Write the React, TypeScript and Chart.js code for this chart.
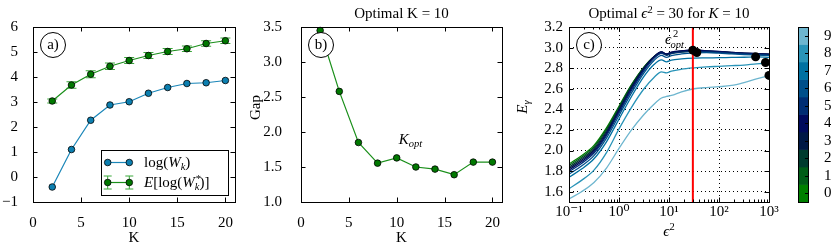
import React, { useEffect, useRef } from "react";
import { Chart, registerables } from "chart.js";

Chart.register(...registerables);

// ---------------- data ----------------
const K_VALUES = [2, 4, 6, 8, 10, 12, 14, 16, 18, 20];
const LOG_WK = [-0.4, 1.1, 2.27, 2.88, 3.01, 3.35, 3.58, 3.74, 3.77, 3.86];
const E_LOG_WK_STAR = [3.04, 3.68, 4.11, 4.43, 4.66, 4.86, 5.02, 5.13, 5.34, 5.45];
const E_LOG_WK_STAR_ERR = [0.08, 0.13, 0.14, 0.13, 0.12, 0.12, 0.12, 0.11, 0.11, 0.11];
const GAP = [3.45, 2.58, 1.85, 1.555, 1.63, 1.5, 1.47, 1.39, 1.57, 1.57];
const K_OPT = 10;

const K_TICKS = [0, 5, 10, 15, 20];
const A_Y_TICKS = [-1, 0, 1, 2, 3, 4, 5, 6];
const B_Y_TICKS = [1.0, 1.5, 2.0, 2.5, 3.0, 3.5];
const C_Y_TICKS = [1.6, 1.8, 2.0, 2.2, 2.4, 2.6, 2.8, 3.0, 3.2];
const C_X_TICKS = [0.1, 1, 10, 100, 1000];
const C_X_TICK_LABELS = ["10⁻¹", "10⁰", "10¹", "10²", "10³"];

const EPS2 = [0.1, 0.178, 0.316, 0.562, 1, 1.78, 3.16, 5.01, 7.08, 8.91, 11.2, 17.8, 31.6, 56.2, 100, 178, 316, 562, 1000];
const E_GAMMA_0 = [1.87, 1.95, 2.05, 2.22, 2.43, 2.64, 2.81, 2.91, 2.95, 2.93, 2.945, 2.958, 2.965, 2.96, 2.955, 2.947, 2.94, 2.935, 2.93];
const E_GAMMA_1 = [1.855, 1.935, 2.035, 2.205, 2.42, 2.635, 2.81, 2.912, 2.952, 2.932, 2.948, 2.961, 2.968, 2.962, 2.957, 2.949, 2.942, 2.937, 2.932];
const E_GAMMA_2 = [1.84, 1.92, 2.02, 2.19, 2.41, 2.625, 2.805, 2.912, 2.955, 2.935, 2.951, 2.964, 2.971, 2.965, 2.959, 2.951, 2.944, 2.939, 2.934];
const E_GAMMA_3 = [1.825, 1.905, 2.005, 2.175, 2.395, 2.615, 2.8, 2.912, 2.957, 2.937, 2.953, 2.967, 2.974, 2.967, 2.961, 2.953, 2.946, 2.941, 2.936];
const E_GAMMA_4 = [1.81, 1.89, 1.99, 2.16, 2.38, 2.6, 2.79, 2.908, 2.958, 2.938, 2.955, 2.969, 2.977, 2.969, 2.962, 2.954, 2.947, 2.942, 2.937];
const E_GAMMA_5 = [1.795, 1.875, 1.975, 2.145, 2.365, 2.585, 2.775, 2.895, 2.945, 2.925, 2.942, 2.956, 2.964, 2.96, 2.954, 2.946, 2.94, 2.935, 2.93];
const E_GAMMA_6 = [1.77, 1.85, 1.95, 2.12, 2.34, 2.56, 2.755, 2.875, 2.925, 2.905, 2.922, 2.938, 2.948, 2.951, 2.946, 2.938, 2.932, 2.927, 2.922];
const E_GAMMA_7 = [1.74, 1.82, 1.92, 2.085, 2.305, 2.525, 2.72, 2.835, 2.88, 2.862, 2.878, 2.89, 2.898, 2.9, 2.902, 2.904, 2.906, 2.91, 2.905];
const E_GAMMA_8 = [1.63, 1.71, 1.81, 1.98, 2.21, 2.42, 2.6, 2.71, 2.765, 2.755, 2.772, 2.79, 2.803, 2.812, 2.818, 2.824, 2.83, 2.842, 2.85];
const E_GAMMA_9 = [1.53, 1.6, 1.69, 1.83, 2.02, 2.2, 2.35, 2.45, 2.51, 2.525, 2.535, 2.57, 2.6, 2.612, 2.62, 2.632, 2.66, 2.695, 2.73];
const E_GAMMA_CURVES = [E_GAMMA_0, E_GAMMA_1, E_GAMMA_2, E_GAMMA_3, E_GAMMA_4, E_GAMMA_5, E_GAMMA_6, E_GAMMA_7, E_GAMMA_8, E_GAMMA_9];
const EPS2_OPT = 30;
const PEAK_EPS2 = [30, 36, 540, 850, 1000];
const PEAK_E_GAMMA = [2.975, 2.952, 2.91, 2.855, 2.73];

const CB_LEVELS = ["0", "1", "2", "3", "4", "5", "6", "7", "8", "9"];
const CB_COLORS = ["#008000", "#005d17", "#003b2e", "#001845", "#000a5c", "#002d73", "#004f8a", "#0071a1", "#2994b8", "#6eb6cf"];

// ---------------- style ----------------
const FF = "'Liberation Serif','DejaVu Serif',serif";
const FS = 15;
const FS_SMALL = 10.5;
const GREEN_LINE = "#1a8f1a";
const GREEN_FILL = "#007800";
const ERR_COLOR = "#3aa83a";
const BLUE_LINE = "#1a86b8";
const BLUE_FILL = "#0c7fb0";

Chart.defaults.font.family = FF;
Chart.defaults.font.size = FS;
Chart.defaults.color = "#000";

type Seg = { t: string; it?: boolean; sz?: number; dy?: number; dx?: number; noAdv?: boolean };

function fontOf(s: Seg) {
  return `${s.it ? "italic " : ""}${s.sz ?? FS}px ${FF}`;
}

function drawRich(ctx: CanvasRenderingContext2D, segs: Seg[], x: number, y: number, align: "left" | "center" | "right" = "left") {
  ctx.save();
  let w = 0;
  for (const s of segs) {
    ctx.font = fontOf(s);
    if (!s.noAdv) w += ctx.measureText(s.t).width + (s.dx || 0);
  }
  let cx = align === "center" ? x - w / 2 : align === "right" ? x - w : x;
  ctx.textAlign = "left";
  ctx.textBaseline = "alphabetic";
  ctx.fillStyle = "#000";
  for (const s of segs) {
    ctx.font = fontOf(s);
    ctx.fillText(s.t, cx + (s.dx || 0), y + (s.dy || 0));
    if (!s.noAdv) cx += ctx.measureText(s.t).width + (s.dx || 0);
  }
  ctx.restore();
}

function fixedTicks(values: number[]) {
  return (scale: any) => {
    scale.ticks = values.map((v) => ({ value: v }));
  };
}

const px = (v: number) => Math.round(v) + 0.5;

function drawFrame(chart: any, logMinorX = false) {
  const { ctx, chartArea: a } = chart;
  const xs = chart.scales.x;
  const ys = chart.scales.y;
  const L = 4.5;
  const Lm = 2.5;
  ctx.save();
  ctx.strokeStyle = "#000";
  ctx.lineWidth = 1;
  ctx.setLineDash([]);
  ctx.beginPath();
  for (const t of xs.ticks) {
    const p = px(xs.getPixelForValue(t.value));
    ctx.moveTo(p, a.bottom);
    ctx.lineTo(p, a.bottom - L);
    ctx.moveTo(p, a.top);
    ctx.lineTo(p, a.top + L);
  }
  if (logMinorX) {
    const e0 = Math.floor(Math.log10(xs.min));
    const e1 = Math.ceil(Math.log10(xs.max));
    for (let e = e0; e < e1; e++) {
      for (let m = 2; m < 10; m++) {
        const p = px(xs.getPixelForValue(m * Math.pow(10, e)));
        ctx.moveTo(p, a.bottom);
        ctx.lineTo(p, a.bottom - Lm);
        ctx.moveTo(p, a.top);
        ctx.lineTo(p, a.top + Lm);
      }
    }
  }
  for (const t of ys.ticks) {
    const p = px(ys.getPixelForValue(t.value));
    ctx.moveTo(a.left, p);
    ctx.lineTo(a.left + L, p);
    ctx.moveTo(a.right, p);
    ctx.lineTo(a.right - L, p);
  }
  ctx.stroke();
  ctx.strokeRect(px(a.left), px(a.top), Math.round(a.right) - Math.round(a.left), Math.round(a.bottom) - Math.round(a.top));
  ctx.restore();
}

function drawCircleLabel(ctx: CanvasRenderingContext2D, a: any, text: string) {
  const cx = a.left + 20;
  const cy = a.top + 18;
  ctx.save();
  ctx.beginPath();
  ctx.arc(cx, cy, 12.5, 0, Math.PI * 2);
  ctx.fillStyle = "#fff";
  ctx.fill();
  ctx.strokeStyle = "#000";
  ctx.lineWidth = 1;
  ctx.stroke();
  ctx.fillStyle = "#000";
  ctx.font = `${FS}px ${FF}`;
  ctx.textAlign = "center";
  ctx.textBaseline = "middle";
  ctx.fillText(text, cx, cy + 0.5);
  ctx.restore();
}

function drawMarker(ctx: CanvasRenderingContext2D, x: number, y: number, fill: string) {
  ctx.beginPath();
  ctx.arc(x, y, 3.3, 0, Math.PI * 2);
  ctx.fillStyle = fill;
  ctx.fill();
  ctx.lineWidth = 0.8;
  ctx.strokeStyle = "#000";
  ctx.stroke();
}

function baseOptions(padLeft: number, padRight: number) {
  return {
    responsive: false,
    animation: false as const,
    devicePixelRatio: 1,
    events: [] as any[],
    layout: { padding: { left: padLeft, right: padRight, top: 27, bottom: 0 } },
    plugins: { legend: { display: false }, tooltip: { enabled: false }, title: { display: false } },
  };
}

function linearX(ticks: number[]) {
  return {
    type: "linear" as const,
    min: 0,
    max: 21,
    afterBuildTicks: fixedTicks(ticks),
    afterFit: (s: any) => {
      s.height = 48;
    },
    grid: { display: false },
    border: { display: false },
    ticks: { padding: 4, autoSkip: false, maxRotation: 0 },
  };
}

// ---------------- panel a ----------------
function makeA(canvas: HTMLCanvasElement) {
  const errPlugin = {
    id: "errbars",
    beforeDatasetsDraw(chart: any) {
      const { ctx } = chart;
      const xs = chart.scales.x;
      const ys = chart.scales.y;
      ctx.save();
      ctx.strokeStyle = ERR_COLOR;
      ctx.lineWidth = 1;
      ctx.beginPath();
      K_VALUES.forEach((k, i) => {
        const x = xs.getPixelForValue(k);
        const y1 = ys.getPixelForValue(E_LOG_WK_STAR[i] - E_LOG_WK_STAR_ERR[i]);
        const y2 = ys.getPixelForValue(E_LOG_WK_STAR[i] + E_LOG_WK_STAR_ERR[i]);
        ctx.moveTo(x, y1);
        ctx.lineTo(x, y2);
        ctx.moveTo(x - 5, y1);
        ctx.lineTo(x + 5, y1);
        ctx.moveTo(x - 5, y2);
        ctx.lineTo(x + 5, y2);
      });
      ctx.stroke();
      ctx.restore();
    },
  };
  const deco = {
    id: "decoA",
    afterDraw(chart: any) {
      const { ctx, chartArea: a } = chart;
      drawFrame(chart);
      drawCircleLabel(ctx, a, "a)");
      drawRich(ctx, [{ t: "K" }], (a.left + a.right) / 2, 242, "center");
      // legend
      const bw = 127;
      const bh = 45;
      const bx = Math.round(a.right - 7.5 - bw);
      const by = Math.round(a.bottom - 7.5 - bh);
      ctx.save();
      ctx.fillStyle = "#fff";
      ctx.fillRect(bx, by, bw, bh);
      ctx.strokeStyle = "#000";
      ctx.lineWidth = 1;
      ctx.strokeRect(bx + 0.5, by + 0.5, bw, bh);
      const m1 = bx + 6.7;
      const m2 = bx + 28.3;
      const r1 = by + 12.5;
      const r2 = by + 32.5;
      ctx.strokeStyle = BLUE_LINE;
      ctx.lineWidth = 1.2;
      ctx.beginPath();
      ctx.moveTo(m1, r1);
      ctx.lineTo(m2, r1);
      ctx.stroke();
      drawMarker(ctx, m1, r1, BLUE_FILL);
      drawMarker(ctx, m2, r1, BLUE_FILL);
      ctx.strokeStyle = ERR_COLOR;
      ctx.lineWidth = 1;
      ctx.beginPath();
      for (const m of [m1, m2]) {
        ctx.moveTo(m, r2 - 6.5);
        ctx.lineTo(m, r2 + 6.5);
        ctx.moveTo(m - 4, r2 - 6.5);
        ctx.lineTo(m + 4, r2 - 6.5);
        ctx.moveTo(m - 4, r2 + 6.5);
        ctx.lineTo(m + 4, r2 + 6.5);
      }
      ctx.stroke();
      ctx.strokeStyle = GREEN_LINE;
      ctx.lineWidth = 1.2;
      ctx.beginPath();
      ctx.moveTo(m1, r2);
      ctx.lineTo(m2, r2);
      ctx.stroke();
      drawMarker(ctx, m1, r2, GREEN_FILL);
      drawMarker(ctx, m2, r2, GREEN_FILL);
      ctx.restore();
      drawRich(ctx, [{ t: "log(" }, { t: "W", it: true }, { t: "k", it: true, sz: FS_SMALL, dy: 3 }, { t: ")" }], bx + 43, r1 + 4.5);
      drawRich(
        ctx,
        [
          { t: "E", it: true },
          { t: "[log(" },
          { t: "W", it: true },
          { t: "*", sz: FS_SMALL, dy: -5, dx: 1, noAdv: true },
          { t: "k", it: true, sz: FS_SMALL, dy: 3 },
          { t: ")]" },
        ],
        bx + 43,
        r2 + 4.5
      );
    },
  };
  return new Chart(canvas, {
    type: "line",
    data: {
      datasets: [
        {
          data: K_VALUES.map((k, i) => ({ x: k, y: E_LOG_WK_STAR[i] })),
          borderColor: GREEN_LINE,
          borderWidth: 1.2,
          pointRadius: 3.3,
          pointBackgroundColor: GREEN_FILL,
          pointBorderColor: "#000",
          pointBorderWidth: 0.8,
          clip: false as any,
        },
        {
          data: K_VALUES.map((k, i) => ({ x: k, y: LOG_WK[i] })),
          borderColor: BLUE_LINE,
          borderWidth: 1.2,
          pointRadius: 3.3,
          pointBackgroundColor: BLUE_FILL,
          pointBorderColor: "#000",
          pointBorderWidth: 0.8,
          clip: false as any,
        },
      ],
    },
    options: {
      ...baseOptions(0, 10),
      scales: {
        x: linearX(K_TICKS),
        y: {
          type: "linear",
          min: -1,
          max: 6,
          afterBuildTicks: fixedTicks(A_Y_TICKS),
          afterFit: (s: any) => {
            s.width = 33;
          },
          grid: { display: false },
          border: { display: false },
          ticks: { padding: 7, autoSkip: false, callback: (v: any) => String(v).replace("-", "\u2212") },
        },
      },
    } as any,
    plugins: [errPlugin, deco],
  });
}

// ---------------- panel b ----------------
function makeB(canvas: HTMLCanvasElement) {
  const deco = {
    id: "decoB",
    afterDraw(chart: any) {
      const { ctx, chartArea: a } = chart;
      const xs = chart.scales.x;
      const ys = chart.scales.y;
      drawFrame(chart);
      drawCircleLabel(ctx, a, "b)");
      drawRich(ctx, [{ t: `Optimal K = ${K_OPT}` }], (a.left + a.right) / 2, 18, "center");
      drawRich(ctx, [{ t: "K" }], (a.left + a.right) / 2, 242, "center");
      ctx.save();
      ctx.translate(a.left - 41.5, 107.5);
      ctx.rotate(-Math.PI / 2);
      drawRich(ctx, [{ t: "Gap" }], 0, 0, "center");
      ctx.restore();
      const gi = K_VALUES.indexOf(K_OPT);
      drawRich(
        ctx,
        [{ t: "K", it: true }, { t: "opt", it: true, sz: FS_SMALL, dy: 3.5 }],
        xs.getPixelForValue(K_OPT + 0.2),
        ys.getPixelForValue(GAP[gi] + 0.2)
      );
    },
  };
  return new Chart(canvas, {
    type: "line",
    data: {
      datasets: [
        {
          data: K_VALUES.map((k, i) => ({ x: k, y: GAP[i] })),
          borderColor: GREEN_LINE,
          borderWidth: 1.2,
          pointRadius: 3.3,
          pointBackgroundColor: GREEN_FILL,
          pointBorderColor: "#000",
          pointBorderWidth: 0.8,
          clip: false as any,
        },
      ],
    },
    options: {
      ...baseOptions(0, 18),
      scales: {
        x: linearX(K_TICKS),
        y: {
          type: "linear",
          min: 1.0,
          max: 3.5,
          afterBuildTicks: fixedTicks(B_Y_TICKS),
          afterFit: (s: any) => {
            s.width = 56;
          },
          grid: { display: false },
          border: { display: false },
          ticks: { padding: 11, autoSkip: false, callback: (v: any) => Number(v).toFixed(1) },
        },
      },
    } as any,
    plugins: [deco],
  });
}

// ---------------- panel c ----------------
function makeC(canvas: HTMLCanvasElement) {
  const deco = {
    id: "decoC",
    afterDraw(chart: any) {
      const { ctx, chartArea: a } = chart;
      const xs = chart.scales.x;
      const ys = chart.scales.y;
      drawFrame(chart, true);
      drawCircleLabel(ctx, a, "c)");
      drawRich(
        ctx,
        [
          { t: "Optimal " },
          { t: "ϵ", it: true },
          { t: "2", sz: FS_SMALL, dy: -5.5 },
          { t: ` = ${EPS2_OPT} for ` },
          { t: "K", it: true },
          { t: ` = ${K_OPT}` },
        ],
        (a.left + a.right) / 2,
        18,
        "center"
      );
      drawRich(ctx, [{ t: "ϵ", it: true }, { t: "2", sz: FS_SMALL, dy: -6.5 }], (a.left + a.right) / 2, 236, "center");
      ctx.save();
      ctx.translate(a.left - 41.7, 107);
      ctx.rotate(-Math.PI / 2);
      drawRich(ctx, [{ t: "E", it: true }, { t: "γ", it: true, sz: FS_SMALL, dy: 3 }], 0, 0, "center");
      ctx.restore();
      drawRich(
        ctx,
        [
          { t: "ϵ", it: true },
          { t: "2", sz: FS_SMALL, dy: -7, dx: 2, noAdv: true },
          { t: "opt", it: true, sz: FS_SMALL, dy: 3.5, dx: -0.5 },
        ],
        xs.getPixelForValue(8.3),
        ys.getPixelForValue(3.032)
      );
    },
  };
  const curveSets = E_GAMMA_CURVES.map((curve, i) => ({
    data: EPS2.map((e, j) => ({ x: e, y: curve[j] })),
    borderColor: CB_COLORS[i],
    borderWidth: 1.3,
    pointRadius: 0,
    cubicInterpolationMode: "monotone" as const,
    order: 2 + (E_GAMMA_CURVES.length - 1 - i),
    clip: 0 as any,
  }));
  return new Chart(canvas, {
    type: "line",
    data: {
      datasets: [
        {
          data: PEAK_EPS2.map((e, i) => ({ x: e, y: PEAK_E_GAMMA[i] })),
          showLine: false,
          pointRadius: 4.5,
          pointBackgroundColor: "#000",
          pointBorderColor: "#000",
          pointBorderWidth: 0,
          order: 0,
          clip: 0 as any,
        },
        {
          data: [
            { x: EPS2_OPT, y: 1.5 },
            { x: EPS2_OPT, y: 3.2 },
          ],
          borderColor: "#ff0000",
          borderWidth: 2,
          pointRadius: 0,
          order: 1,
          clip: 0 as any,
        },
        ...curveSets,
      ],
    },
    options: {
      ...baseOptions(0, 16),
      scales: {
        x: {
          type: "logarithmic",
          min: 0.1,
          max: 1000,
          afterBuildTicks: fixedTicks(C_X_TICKS),
          afterFit: (s: any) => {
            s.height = 48;
          },
          grid: { display: true, color: "#000", lineWidth: 1, drawTicks: false },
          border: { display: false, dash: [1, 3] },
          ticks: { padding: 1, autoSkip: false, maxRotation: 0, callback: (_v: any, i: number) => C_X_TICK_LABELS[i] },
        },
        y: {
          type: "linear",
          min: 1.5,
          max: 3.2,
          afterBuildTicks: fixedTicks(C_Y_TICKS),
          afterFit: (s: any) => {
            s.width = 64;
          },
          grid: { display: true, color: "#000", lineWidth: 1, drawTicks: false },
          border: { display: false, dash: [1, 3] },
          ticks: { padding: 6, autoSkip: false, callback: (v: any) => Number(v).toFixed(1) },
        },
      },
    } as any,
    plugins: [deco],
  });
}

// ---------------- colorbar ----------------
function makeCB(canvas: HTMLCanvasElement) {
  const deco = {
    id: "decoCB",
    afterDraw(chart: any) {
      const { ctx, chartArea: a } = chart;
      const ys = chart.scales.y;
      ctx.save();
      ctx.strokeStyle = "#000";
      ctx.lineWidth = 1;
      ctx.beginPath();
      CB_LEVELS.forEach((_l, i) => {
        const p = px(ys.getPixelForValue(i));
        ctx.moveTo(a.right, p);
        ctx.lineTo(a.right - 3, p);
      });
      ctx.stroke();
      ctx.strokeRect(px(a.left), px(a.top), Math.round(a.right) - Math.round(a.left), Math.round(a.bottom) - Math.round(a.top));
      ctx.restore();
    },
  };
  return new Chart(canvas, {
    type: "bar",
    data: {
      labels: CB_LEVELS,
      datasets: [
        {
          data: CB_LEVELS.map(() => 1),
          backgroundColor: CB_COLORS,
          borderWidth: 0,
          barPercentage: 1,
          categoryPercentage: 1,
        },
      ],
    },
    options: {
      responsive: false,
      animation: false,
      devicePixelRatio: 1,
      events: [],
      indexAxis: "y",
      layout: { padding: { left: 18, right: 0, top: 27, bottom: 48 } },
      plugins: { legend: { display: false }, tooltip: { enabled: false } },
      scales: {
        x: { display: false, min: 0, max: 1 },
        y: {
          position: "right",
          reverse: true,
          grid: { display: false },
          border: { display: false },
          ticks: { padding: 8, autoSkip: false },
          afterFit: (s: any) => {
            s.width = 23;
          },
        },
      },
    } as any,
    plugins: [deco],
  });
}

function ChartCanvas({ left, width, make }: { left: number; width: number; make: (c: HTMLCanvasElement) => Chart }) {
  const ref = useRef<HTMLCanvasElement>(null);
  useEffect(() => {
    const chart = make(ref.current as HTMLCanvasElement);
    return () => chart.destroy();
  }, []);
  return (
    <canvas
      ref={ref}
      width={width}
      height={250}
      style={{ position: "absolute", left, top: 0, width, height: 250, display: "block" }}
    />
  );
}

export default function App() {
  return (
    <div style={{ position: "absolute", left: 0, top: 0, width: 831, height: 250, background: "#fff", overflow: "hidden" }}>
      <ChartCanvas left={0} width={245} make={makeA} />
      <ChartCanvas left={245} width={275} make={makeB} />
      <ChartCanvas left={505} width={280} make={makeC} />
      <ChartCanvas left={780} width={51} make={makeCB} />
    </div>
  );
}
